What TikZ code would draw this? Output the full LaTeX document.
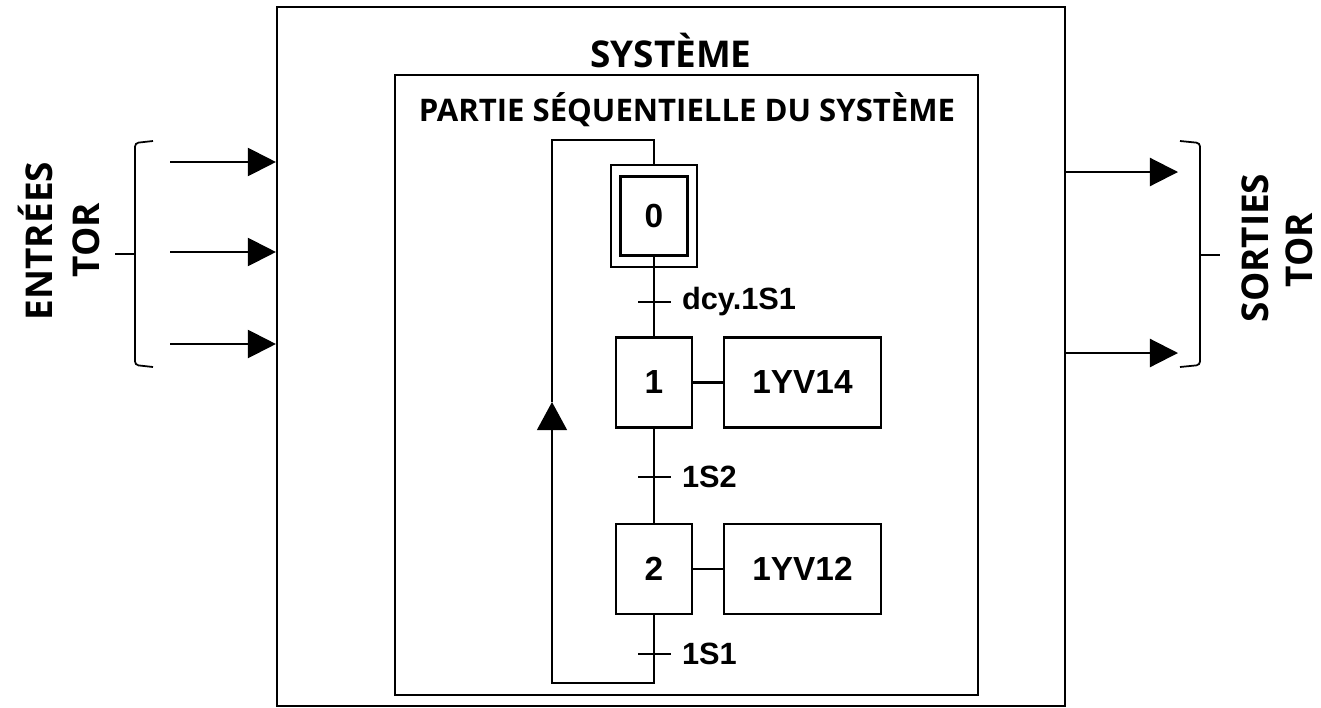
\documentclass[tikz,border=0pt]{standalone}
\usepackage{fontspec}
\usepackage{tikz}
\usetikzlibrary{arrows.meta,positioning,calc}
\newfontfamily\headfont{Open Sans}
\newfontfamily\grafont{Liberation Sans}

\begin{document}
\begin{tikzpicture}[
    font=\grafont\bfseries\fontsize{19}{21}\selectfont,
    frame/.style={draw, line width=1.2pt, inner sep=0pt},
    stepbox/.style={draw, line width=1.2pt, minimum width=1.52cm, minimum height=1.8cm, inner sep=0pt},
    actionbox/.style={draw, line width=1.2pt, minimum width=3.14cm, minimum height=1.8cm, inner sep=0pt},
    trans/.style={fill=black, minimum width=0.66cm, minimum height=1.2pt, inner sep=0pt},
    translabel/.style={font=\grafont\bfseries\fontsize{17.5}{19}\selectfont, label distance=0.1cm},
    headtext/.style={font=\headfont\bfseries\fontsize{21}{23}\selectfont, align=center},
    arrow/.style={-{Triangle[length=16pt,width=16pt]}, line width=1.2pt},
    link/.style={line width=1.2pt},
    bracket/.style={line width=1pt, rounded corners=2pt}
]
\useasboundingbox (0,0) rectangle (26.42,-14.14);

% ===================== SYSTEM =====================
\node[frame, minimum width=15.76cm, minimum height=13.98cm] (systeme) at (13.42,-7.13) {};
\node[headtext] (systitle) at (13.42,-1.0) {SYSTÈME};

\node[frame, minimum width=11.66cm, minimum height=12.4cm] (partie) at (13.73,-7.70) {};
\node[headtext, font=\headfont\bfseries\fontsize{17.7}{19}\selectfont] (partitle) at (13.74,-2.2)
{PARTIE SÉQUENTIELLE DU SYSTÈME};

% ===================== GRAFCET =====================
\node[draw, line width=1.2pt, minimum width=1.72cm, minimum height=2.04cm] (s0) at (13.08,-4.32) {};
\node[stepbox, minimum width=1.34cm, minimum height=1.58cm] (s0in) at (s0) {0};
\node[stepbox] (s1) at (13.08,-7.65) {1};
\node[stepbox] (s2) at (13.08,-11.38) {2};

\node[actionbox] (a1) at (16.05,-7.65) {1YV14};
\node[actionbox] (a2) at (16.05,-11.38) {1YV12};

\node[trans, label={[translabel]right:dcy.1S1}] (t0) at (13.08,-6.04) {};
\node[trans, label={[translabel]right:1S2}] (t1) at (13.08,-9.54) {};
\node[trans, label={[translabel]right:1S1}] (t2) at (13.08,-13.08) {};

\coordinate (loopbr) at (13.08,-13.66);
\coordinate (loopbl) at (11.04,-13.66);
\coordinate (looparrow) at (11.04,-8.04);
\coordinate (looptl) at (11.04,-2.80);
\coordinate (looptr) at (13.08,-2.80);

% ===================== INPUTS / OUTPUTS =====================
\coordinate (in1) at (3.40,-3.24);
\coordinate (in2) at (3.40,-5.04);
\coordinate (in3) at (3.40,-6.88);
\coordinate (out1) at (23.56,-3.44);
\coordinate (out2) at (23.56,-7.06);

\node[headtext, rotate=90] (entrees) at (0.70,-4.82) {ENTRÉES};
\node[headtext, rotate=90] (entor) at (1.72,-4.80) {TOR};
\node[headtext, rotate=90] (sorties) at (25.10,-4.96) {SORTIES};
\node[headtext, rotate=90] (sortor) at (25.98,-5.00) {TOR};

% ===================== ARROWS =====================
\draw[link] (s0in.south) -- (s1.north);
\draw[link] (s1.south) -- (s2.north);
\draw[link] (s1.east) -- (a1.west);
\draw[link] (s2.east) -- (a2.west);

\draw[link] (s2.south) -- (loopbr) -- (loopbl) -- (looparrow)
    [-{Triangle[length=16pt,width=17pt]}];
\draw[link] (looparrow) -- (looptl) -- (looptr) -- (s0.north);

\draw[arrow] (in1) -- (in1 -| systeme.west);
\draw[arrow] (in2) -- (in2 -| systeme.west);
\draw[arrow] (in3) -- (in3 -| systeme.west);
\draw[arrow] (out1 -| systeme.east) -- (out1);
\draw[arrow] (out2 -| systeme.east) -- (out2);

% brackets
\draw[bracket] (3.06,-2.82) -- (2.70,-2.86) -- (2.70,-7.30) -- (3.06,-7.34);
\draw[bracket] (2.70,-5.08) -- (2.30,-5.08);
\draw[bracket] (23.60,-2.82) -- (24.00,-2.86) -- (24.00,-7.30) -- (23.60,-7.34);
\draw[bracket] (24.00,-5.10) -- (24.40,-5.10);

\end{tikzpicture}
\end{document}
